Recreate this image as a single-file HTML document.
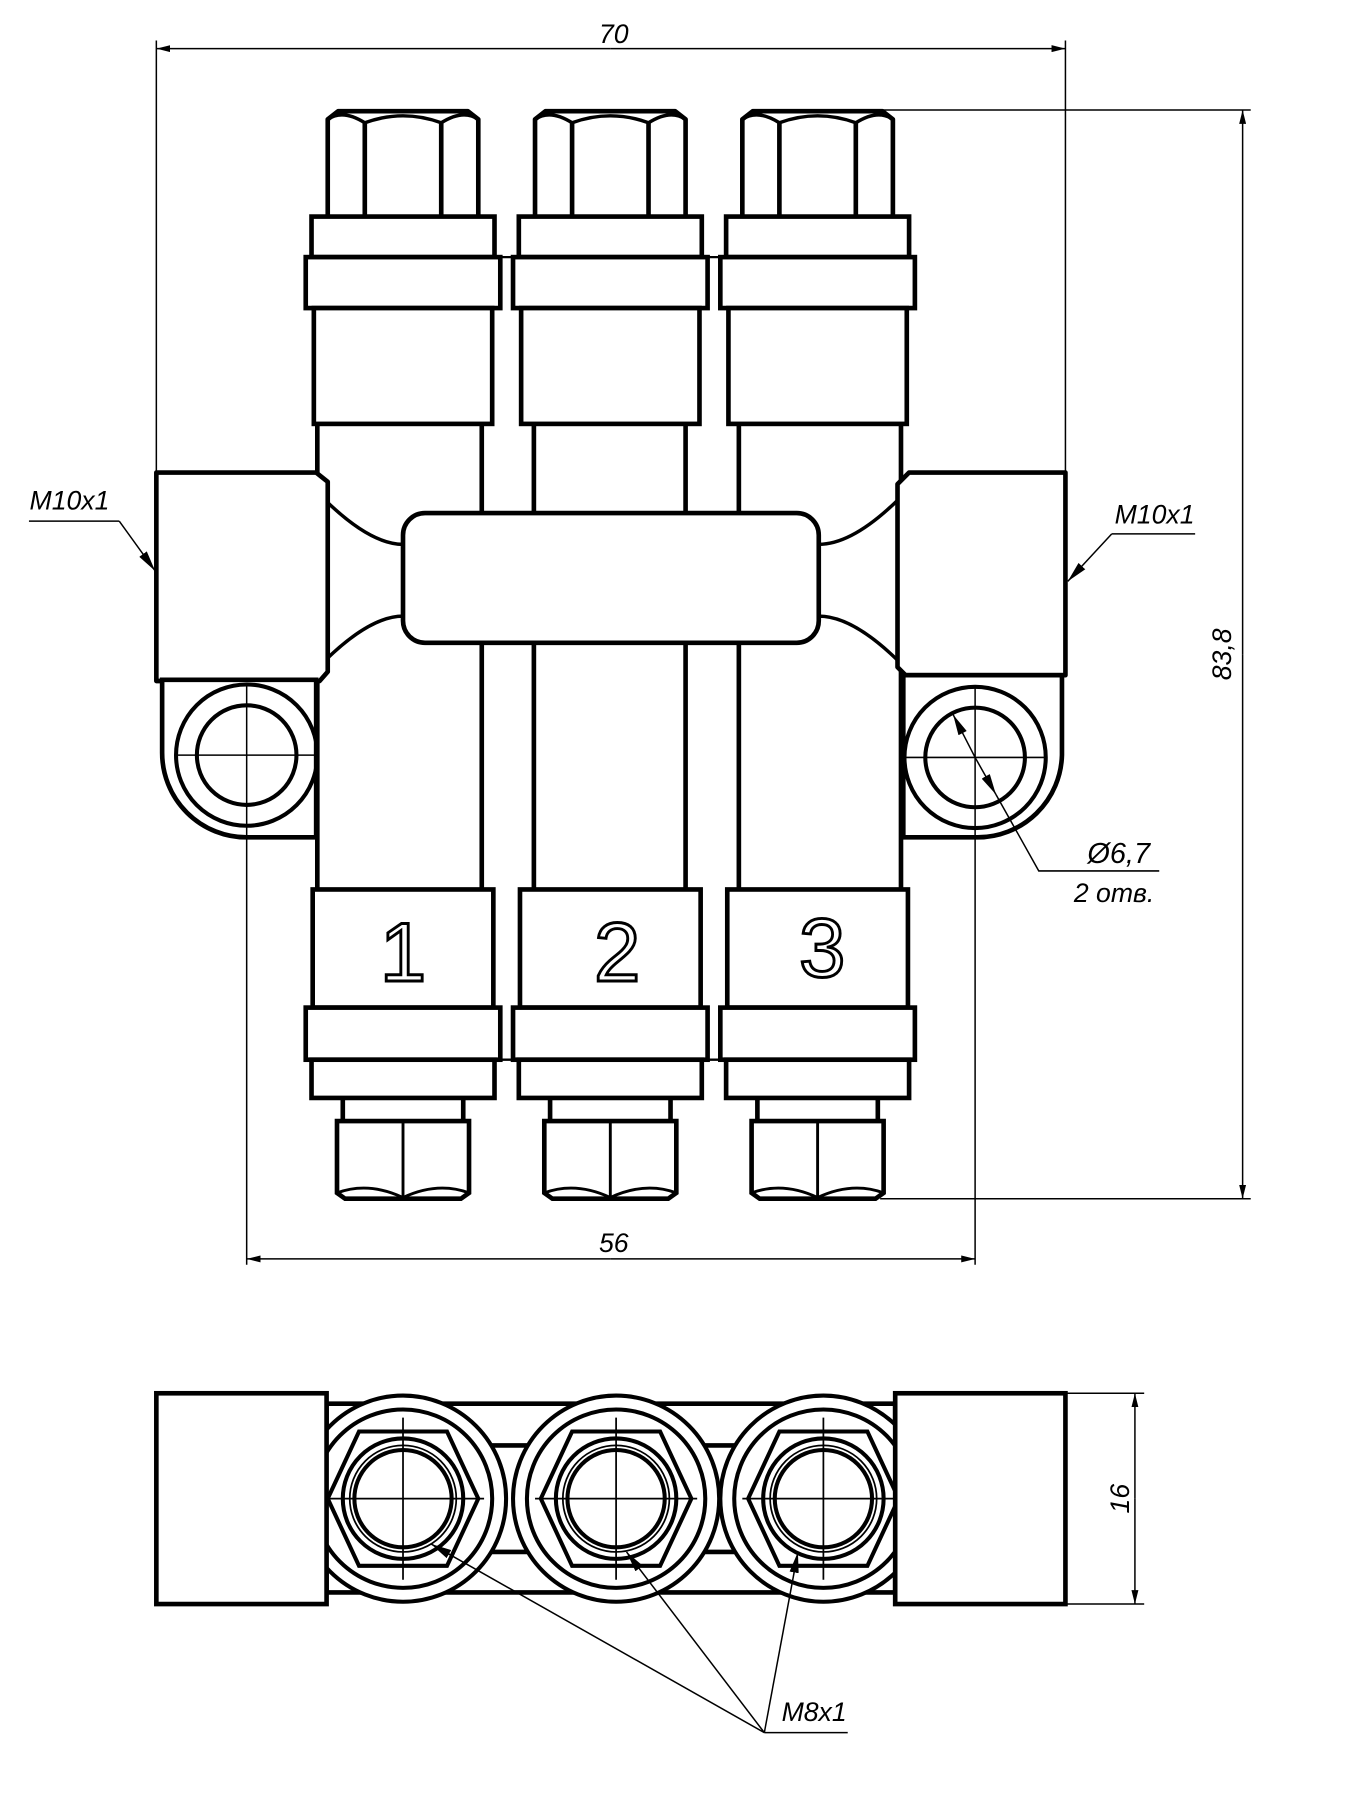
<!DOCTYPE html>
<html><head><meta charset="utf-8"><style>
html,body{margin:0;padding:0;background:#fff}
svg{display:block}
text{font-family:"Liberation Sans",sans-serif;font-style:italic;fill:#000}
</style></head><body>
<svg width="1367" height="1816" viewBox="0 0 1180.4 1568" preserveAspectRatio="none" xmlns="http://www.w3.org/2000/svg">
<defs>
<marker id="ar" viewBox="0 0 12 6" refX="12" refY="3" markerWidth="12" markerHeight="6" orient="auto" markerUnits="userSpaceOnUse"><path d="M0,0 L12,3 L0,6 Z" fill="#000"/></marker>
<marker id="ar2" viewBox="0 0 18 8" refX="18" refY="4" markerWidth="18" markerHeight="8" orient="auto" markerUnits="userSpaceOnUse"><path d="M0,0 L18,4 L0,8 Z" fill="#000"/></marker>
<g id="col">
  <path d="M-65,187 V103 L-56,96 H56 L65,103 V187" fill="#fff" stroke="#000" stroke-width="4" stroke-linejoin="round"/>
  <path d="M-65,103 Q-52,94 -33,106 Q0,94 33,106 Q52,94 65,103" fill="none" stroke="#000" stroke-width="3"/>
  <path d="M-33,106 V187 M33,106 V187" stroke="#000" stroke-width="4"/>
  <rect x="-79" y="187" width="158" height="35" fill="#fff" stroke="#000" stroke-width="4"/>
  <rect x="-84" y="222" width="168" height="44" fill="#fff" stroke="#000" stroke-width="4"/>
  <rect x="-77" y="266" width="154" height="100" fill="#fff" stroke="#000" stroke-width="4"/>
  <rect x="-78" y="768" width="156" height="102" fill="#fff" stroke="#000" stroke-width="4"/>
  <rect x="-84" y="870" width="168" height="45" fill="#fff" stroke="#000" stroke-width="4"/>
  <rect x="-79" y="915" width="158" height="33" fill="#fff" stroke="#000" stroke-width="4"/>
  <path d="M-52,948 V968 M52,948 V968" stroke="#000" stroke-width="4"/>
  <path d="M-57,968 H57 V1030 L50,1035 H-50 L-57,1030 Z" fill="#fff" stroke="#000" stroke-width="4"/>
  <path d="M0,968 V1035 M-57,1030 Q-30,1020 0,1034 Q30,1020 57,1030" fill="none" stroke="#000" stroke-width="2.5"/>
</g>
<g id="bv">
  <circle r="89" fill="#fff" stroke="#000" stroke-width="3.5"/>
  <circle r="77" fill="none" stroke="#000" stroke-width="3.5"/>
  <path d="M-65,0 L-38,-58 H38 L65,0 L38,58 H-38 Z" fill="none" stroke="#000" stroke-width="3.5"/>
  <circle r="52" fill="none" stroke="#000" stroke-width="3.5"/>
  <circle r="46" fill="none" stroke="#000" stroke-width="1.5"/>
  <circle r="42" fill="none" stroke="#000" stroke-width="3.5"/>
  <path d="M-70,0 H70 M0,-70 V70" stroke="#000" stroke-width="1.5"/>
</g>
</defs>

<path d="M135,35 V408 M920,35 V408" stroke="#000" stroke-width="1.3"/>
<line x1="527" y1="42" x2="135" y2="42" stroke="#000" stroke-width="1.3" marker-end="url(#ar)"/>
<line x1="527" y1="42" x2="920" y2="42" stroke="#000" stroke-width="1.3" marker-end="url(#ar)"/>
<text x="530" y="37" font-size="23" text-anchor="middle">70</text>

<path d="M750,95 H1080 M760,1035 H1080" stroke="#000" stroke-width="1.3"/>
<line x1="1073" y1="565" x2="1073" y2="95" stroke="#000" stroke-width="1.3" marker-end="url(#ar)"/>
<line x1="1073" y1="565" x2="1073" y2="1035" stroke="#000" stroke-width="1.3" marker-end="url(#ar)"/>
<text transform="translate(1063,565) rotate(-90)" font-size="23" text-anchor="middle">83,8</text>

<!-- tubes -->
<path d="M274,366 V768 M416,366 V768 M461,366 V768 M592,366 V768 M638,366 V768 M778,366 V768" stroke="#000" stroke-width="4"/>

<use href="#col" x="348" y="0"/>
<use href="#col" x="527" y="0"/>
<use href="#col" x="706" y="0"/>
<path d="M432,222 H443 M611,222 H622 M432,915 H443 M611,915 H622" stroke="#000" stroke-width="2"/>

<path d="M281,432 Q320,470 348,470 M281,570 Q320,532 348,532 M775,432 Q736,470 707,470 M775,570 Q736,532 707,532" fill="none" stroke="#000" stroke-width="3"/>
<rect x="348" y="443" width="359" height="112" rx="19" fill="#fff" stroke="#000" stroke-width="4"/>

<path d="M135,408 H273 L283,416 V580 L276,588 H135 Z" fill="#fff" stroke="#000" stroke-width="4" stroke-linejoin="round"/>
<path d="M140,587 H273 V723 H213 A73,73 0 0 1 140,650 Z" fill="#fff" stroke="#000" stroke-width="4"/>
<circle cx="213" cy="652" r="61" fill="none" stroke="#000" stroke-width="3.5"/>
<circle cx="213" cy="652" r="43" fill="none" stroke="#000" stroke-width="3.5"/>
<path d="M153,652 H273 M213,592 V1092" stroke="#000" stroke-width="1.3"/>

<path d="M785,408 H920 V583 H782 L775,576 V418 Z" fill="#fff" stroke="#000" stroke-width="4" stroke-linejoin="round"/>
<path d="M780,583 H917 V652 A73,73 0 0 1 844,723 H780 Z" fill="#fff" stroke="#000" stroke-width="4"/>
<circle cx="842" cy="654" r="61" fill="none" stroke="#000" stroke-width="3.5"/>
<circle cx="842" cy="654" r="43" fill="none" stroke="#000" stroke-width="3.5"/>
<path d="M782,654 H902 M842,594 V1092" stroke="#000" stroke-width="1.3"/>

<g font-size="72" stroke="#000" stroke-width="2.5" text-anchor="middle">
<text x="348" y="847" style="font-style:normal;fill:#fff">1</text>
<text x="533" y="847" style="font-style:normal;fill:#fff">2</text>
<text x="710" y="843" style="font-style:normal;fill:#fff">3</text>
</g>

<text x="60" y="440" font-size="23" text-anchor="middle">M10x1</text>
<path d="M25,450 H103" stroke="#000" stroke-width="1.3"/>
<line x1="103" y1="450" x2="134" y2="493" stroke="#000" stroke-width="1.3" marker-end="url(#ar2)"/>
<text x="997" y="452" font-size="23" text-anchor="middle">M10x1</text>
<path d="M960,461 H1032" stroke="#000" stroke-width="1.3"/>
<line x1="960" y1="461" x2="922" y2="502" stroke="#000" stroke-width="1.3" marker-end="url(#ar2)"/>

<line x1="842" y1="654" x2="823" y2="617" stroke="#000" stroke-width="1.3" marker-end="url(#ar2)"/>
<line x1="842" y1="654" x2="860" y2="686" stroke="#000" stroke-width="1.3" marker-end="url(#ar2)"/>
<path d="M860,686 L897,752 H1001" fill="none" stroke="#000" stroke-width="1.3"/>
<text x="966" y="745" font-size="25" text-anchor="middle">Ø6,7</text>
<text x="962" y="779" font-size="23" text-anchor="middle">2 отв.</text>

<line x1="527" y1="1087" x2="213" y2="1087" stroke="#000" stroke-width="1.3" marker-end="url(#ar)"/>
<line x1="527" y1="1087" x2="842" y2="1087" stroke="#000" stroke-width="1.3" marker-end="url(#ar)"/>
<text x="530" y="1081" font-size="23" text-anchor="middle">56</text>

<path d="M282,1212 H773 V1375 H282 Z" fill="#fff" stroke="#000" stroke-width="4"/>
<path d="M282,1248 H773 M282,1340 H773" stroke="#000" stroke-width="4"/>
<use href="#bv" x="348" y="1294"/>
<use href="#bv" x="532" y="1294"/>
<use href="#bv" x="711" y="1294"/>
<rect x="135" y="1203" width="147" height="182" fill="#fff" stroke="#000" stroke-width="4"/>
<rect x="773" y="1203" width="147" height="182" fill="#fff" stroke="#000" stroke-width="4"/>

<path d="M920,1203 H988 M920,1385 H988" stroke="#000" stroke-width="1.3"/>
<line x1="980" y1="1294" x2="980" y2="1203" stroke="#000" stroke-width="1.3" marker-end="url(#ar)"/>
<line x1="980" y1="1294" x2="980" y2="1385" stroke="#000" stroke-width="1.3" marker-end="url(#ar)"/>
<text transform="translate(975,1294) rotate(-90)" font-size="23" text-anchor="middle">16</text>

<line x1="660" y1="1496" x2="372" y2="1333" stroke="#000" stroke-width="1.3" marker-end="url(#ar2)"/>
<line x1="660" y1="1496" x2="541" y2="1340" stroke="#000" stroke-width="1.3" marker-end="url(#ar2)"/>
<line x1="660" y1="1496" x2="689" y2="1340" stroke="#000" stroke-width="1.3" marker-end="url(#ar2)"/>
<path d="M660,1496 H732" stroke="#000" stroke-width="1.3"/>
<text x="703" y="1486" font-size="23" text-anchor="middle">M8x1</text>
</svg>
</body></html>
